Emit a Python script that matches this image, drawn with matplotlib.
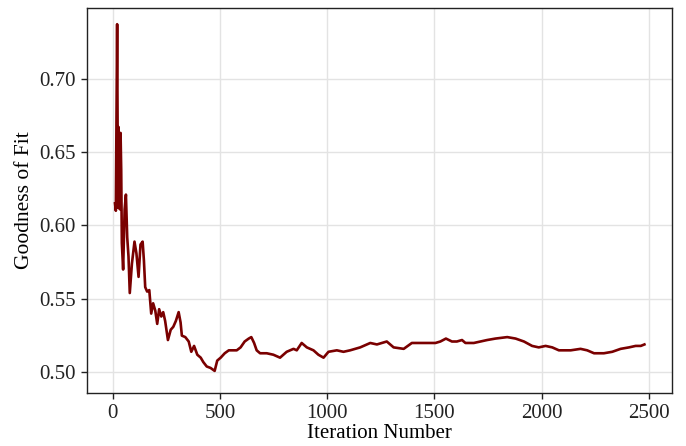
import numpy as np
import matplotlib
matplotlib.use("Agg")
import matplotlib.pyplot as plt

# values
iterations = [10, 14, 20, 24, 27, 30, 33, 36, 39, 42, 48, 55, 61, 67, 73, 79, 89,
              101, 110, 120, 129, 139, 145, 151, 160, 170, 179, 188, 198, 207, 216,
              226, 235, 244, 257, 270, 282, 294, 307, 316, 322, 338, 354, 366, 379,
              394, 410, 422, 438, 456, 475, 487, 503, 522, 541, 559, 578, 596, 615,
              634, 646, 659, 671, 687, 718, 749, 780, 811, 843, 858, 881, 905, 936,
              959, 983, 1006, 1045, 1076, 1107, 1154, 1201, 1232, 1278, 1310, 1357,
              1395, 1435, 1466, 1505, 1528, 1554, 1582, 1605, 1629, 1645, 1684, 1715,
              1746, 1785, 1840, 1879, 1918, 1956, 1987, 2019, 2050, 2081, 2136, 2182,
              2213, 2245, 2291, 2330, 2369, 2408, 2439, 2463, 2480]
fit_values = [0.615, 0.610, 0.737, 0.612, 0.667, 0.612, 0.611, 0.663, 0.638, 0.588,
              0.570, 0.611, 0.621, 0.592, 0.579, 0.554, 0.574, 0.589, 0.581, 0.565,
              0.587, 0.589, 0.576, 0.558, 0.555, 0.556, 0.540, 0.547, 0.542, 0.533,
              0.543, 0.538, 0.541, 0.535, 0.522, 0.529, 0.531, 0.535, 0.541, 0.534,
              0.525, 0.524, 0.521, 0.514, 0.518, 0.512, 0.510, 0.507, 0.504, 0.503,
              0.501, 0.508, 0.510, 0.513, 0.515, 0.515, 0.515, 0.517, 0.521, 0.523,
              0.524, 0.520, 0.515, 0.513, 0.513, 0.512, 0.510, 0.514, 0.516, 0.515,
              0.520, 0.517, 0.515, 0.512, 0.510, 0.514, 0.515, 0.514, 0.515, 0.517,
              0.520, 0.519, 0.521, 0.517, 0.516, 0.520, 0.520, 0.520, 0.520, 0.521,
              0.523, 0.521, 0.521, 0.522, 0.520, 0.520, 0.521, 0.522, 0.523, 0.524,
              0.523, 0.521, 0.518, 0.517, 0.518, 0.517, 0.515, 0.515, 0.516, 0.515,
              0.513, 0.513, 0.514, 0.516, 0.517, 0.518, 0.518, 0.519]

xticks = [0, 500, 1000, 1500, 2000, 2500]
yticks = [0.50, 0.55, 0.60, 0.65, 0.70]

plt.rcParams['font.family'] = ['Liberation Serif', 'DejaVu Serif']
plt.rcParams['font.size'] = 15

fig = plt.figure(figsize=(6.86, 4.46), dpi=100)
ax = fig.add_axes([0.127, 0.119, 0.853, 0.863])

ax.plot(iterations, fit_values, color='#7a0000', linewidth=1.9)

ax.set_xlim(-120, 2610)
ax.set_ylim(0.486, 0.748)
ax.set_xticks(xticks)
ax.set_yticks(yticks)
ax.set_yticklabels(['%.2f' % v for v in yticks])
ax.grid(True, color='#e3e3e3', linewidth=1.0)
ax.set_axisbelow(True)
ax.tick_params(direction='out', length=4.5, width=1, labelsize=15, colors='#222222')
for s in ax.spines.values():
    s.set_color('#222222')
    s.set_linewidth(1.0)

ax.set_xlabel('Iteration Number', fontsize=15, labelpad=1)
ax.set_ylabel('Goodness of Fit', fontsize=15.5, labelpad=4)

fig.savefig('out.png', dpi=100)
